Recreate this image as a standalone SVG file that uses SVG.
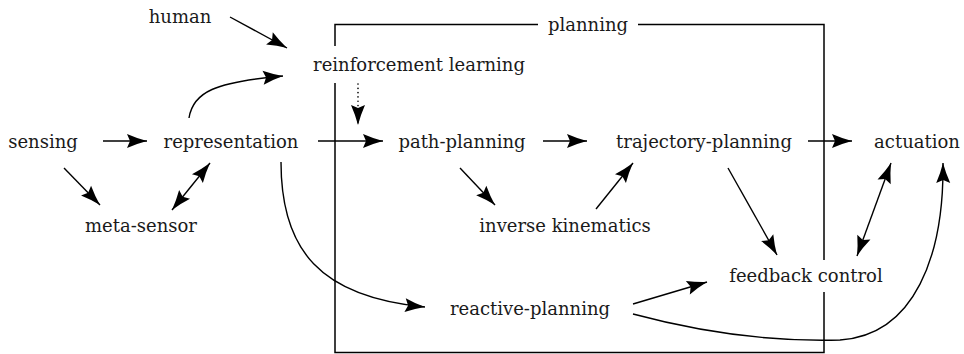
<svg xmlns="http://www.w3.org/2000/svg" width="964" height="354" viewBox="0 0 964 354">
<style>
text{font-family:"DejaVu Serif","Liberation Serif",serif;font-size:18px;fill:#1a1a1a;text-anchor:middle}
.bg{fill:#fff}
.box{fill:none;stroke:#000;stroke-width:1.5}
.c{fill:none;stroke:#000;stroke-width:1.4}
.a{marker-end:url(#ah)}
.d{marker-start:url(#ah);marker-end:url(#ah)}
.dot{stroke-dasharray:0.1 4.2;stroke-linecap:round;stroke-width:1.6}
</style>
<defs>
<marker id="ah" markerUnits="userSpaceOnUse" markerWidth="22" markerHeight="18" viewBox="-21 -9 22 18" refX="0" refY="0" orient="auto-start-reverse">
<path d="M0,0 Q-10,-2.6 -20,-7 L-17,0 L-20,7 Q-10,2.6 0,0Z" fill="#000"/>
</marker>
</defs>
<rect class="box" x="335" y="24.5" width="489" height="328"/>
<g id="connectors">
<path class="c a" d="M230,17 L287,48"/>
<path class="c a" d="M103,141 L147,141"/>
<path class="c a" d="M318,141 L383,141"/>
<path class="c a" d="M543,141 L587,141"/>
<path class="c a" d="M808,141 L852,141"/>
<path class="c a" d="M64,168 L100,205"/>
<path class="c d" d="M172,210 L210,163"/>
<path class="c a" d="M189,118 C193,92 215,82 283,76"/>
<path class="c dot a" d="M358,84 L358,125"/>
<path class="c a" d="M460,168 L495,205"/>
<path class="c a" d="M596,209 L633,163"/>
<path class="c a" d="M728,168 L777,255"/>
<path class="c d" d="M857,256 L891,163"/>
<path class="c a" d="M281,162 C281,250 320,297 425,307"/>
<path class="c a" d="M633,304 L707,282"/>
<path class="c a" d="M633,314 C700,332 770,342 840,340 C915,335 944,255 943,163"/>
</g>
<g id="human"><text x="180" y="23">human</text></g>
<g id="sensing"><text x="43" y="148">sensing</text></g>
<g id="representation"><text x="231" y="148">representation</text></g>
<g id="reinforcement-learning"><rect class="bg" x="305" y="46" width="229" height="37"/><text x="419" y="71">reinforcement learning</text></g>
<g id="planning"><rect class="bg" x="538" y="14" width="100" height="22"/><text x="588" y="31">planning</text></g>
<g id="path-planning"><text x="462" y="148">path-planning</text></g>
<g id="trajectory-planning"><text x="704" y="148">trajectory-planning</text></g>
<g id="actuation"><text x="917" y="148">actuation</text></g>
<g id="meta-sensor"><text x="141" y="232">meta-sensor</text></g>
<g id="inverse-kinematics"><text x="565" y="232">inverse kinematics</text></g>
<g id="reactive-planning"><text x="530" y="315">reactive-planning</text></g>
<g id="feedback-control"><rect class="bg" x="722" y="260" width="168" height="32"/><text x="806" y="282">feedback control</text></g>
</svg>
